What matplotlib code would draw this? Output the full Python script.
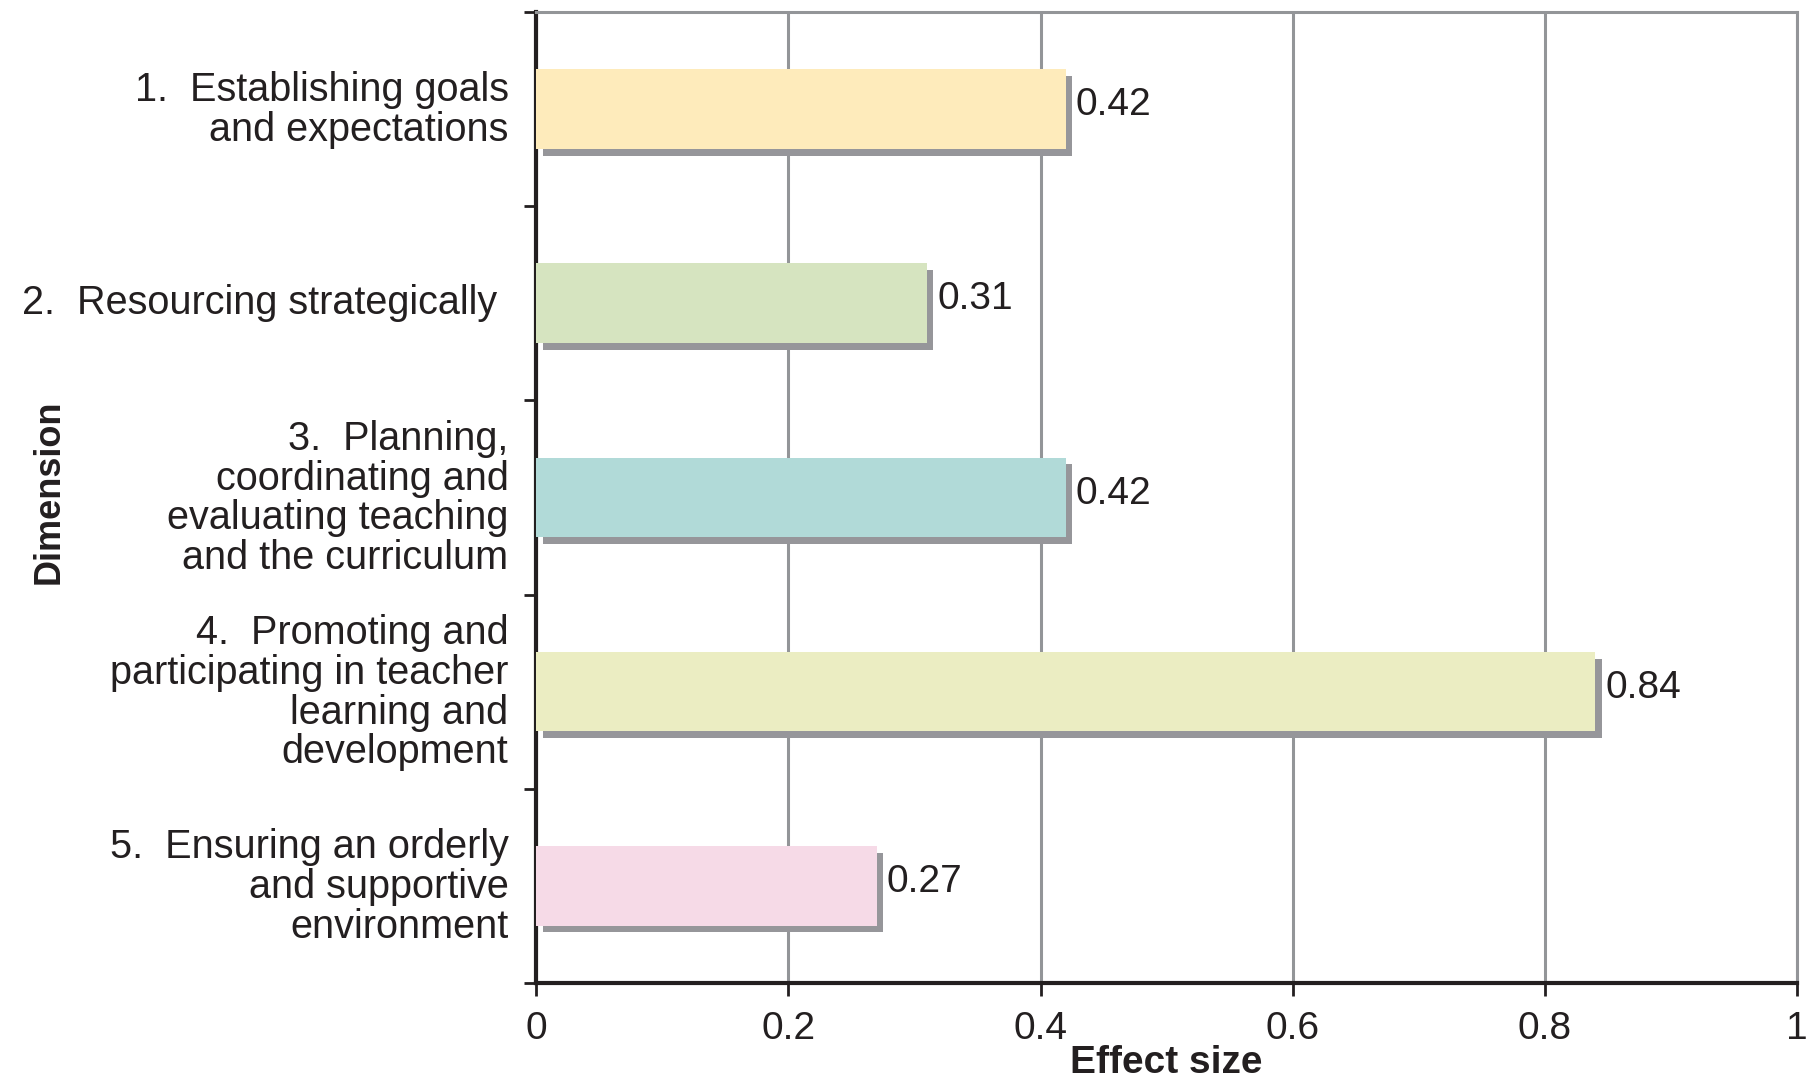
import matplotlib
matplotlib.use("Agg")
import matplotlib.pyplot as plt
import numpy as np

plt.rcParams['font.family'] = ['Liberation Sans', 'DejaVu Sans']

dimensions = [
    "1.  Establishing goals\nand expectations",
    "2.  Resourcing strategically ",
    "3.  Planning,\ncoordinating and\nevaluating teaching\nand the curriculum",
    "4.  Promoting and\nparticipating in teacher\nlearning and\ndevelopment",
    "5.  Ensuring an orderly\nand supportive\nenvironment",
]
effect_sizes = [0.42, 0.31, 0.42, 0.84, 0.27]
bar_colors = ["#FEEBBB", "#D6E4C0", "#B1DAD8", "#EBEDC2", "#F6DAE7"]
x_ticks = [0, 0.2, 0.4, 0.6, 0.8, 1]
x_labels = ["0", "0.2", "0.4", "0.6", "0.8", "1"]

fig = plt.figure(figsize=(18.12, 10.81), dpi=100)
ax = fig.add_axes([0.296, 0.0907, 0.6957, 0.8983])

y = np.arange(len(dimensions))
h = 0.41
# shadow offset in data units (approx 6px)
dx = 0.005
dy = 0.035
ax.barh(y + dy, effect_sizes, height=h, left=dx, color="#96969A", zorder=2)
ax.barh(y, effect_sizes, height=h, color=bar_colors, zorder=3)

for yi, v in zip(y, effect_sizes):
    ax.text(v + dx + 0.003, yi - 0.02, f"{v:.2f}", va="center", ha="left",
            fontsize=28, color="#231F20", zorder=4)

ax.set_xlim(0, 1)
ax.set_ylim(len(dimensions) - 0.5, -0.5)
ax.set_xticks(x_ticks)
ax.set_xticklabels(x_labels, fontsize=28, color="#231F20")
ax.xaxis.grid(True, color="#939598", linewidth=2.2, zorder=0)
ax.set_axisbelow(True)

ax.set_yticks(y - 0.02)
ax.set_yticklabels(dimensions, fontsize=28.5, color="#231F20", linespacing=1.06)
ax.tick_params(axis="y", length=0, pad=20)
ax.set_yticks(np.arange(len(dimensions) + 1) - 0.5, minor=True)
ax.tick_params(axis="y", which="minor", length=9, width=2, color="#231F20", direction="out")
ax.tick_params(axis="x", length=9, width=2, color="#231F20", direction="out", pad=11)

for s in ["left", "bottom"]:
    ax.spines[s].set_linewidth(3)
    ax.spines[s].set_color("#231F20")
for s in ["top", "right"]:
    ax.spines[s].set_linewidth(2.2)
    ax.spines[s].set_color("#939598")

ax.set_xlabel("Effect size", fontsize=28, fontweight="bold", color="#231F20", labelpad=-1)
fig.text(0.027, 0.545, "Dimension", rotation=90, fontsize=26, fontweight="bold",
         color="#231F20", ha="center", va="center")

fig.savefig("out.png", dpi=100)
